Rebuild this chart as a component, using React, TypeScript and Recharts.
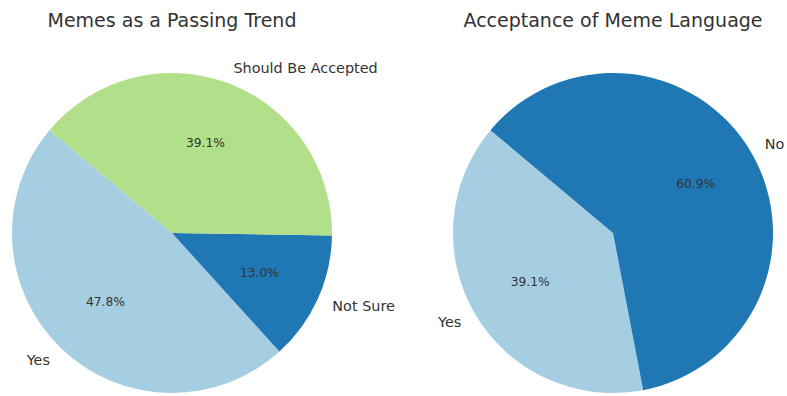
import { PieChart, Pie, Cell } from 'recharts'

const trendLabels = ['Yes', 'Not Sure', 'Should Be Accepted']
const trendCounts = [11, 3, 9]
const trendColors = ['#a6cee3', '#1f78b4', '#b2df8a']

const langLabels = ['Yes', 'No']
const langCounts = [9, 14]
const langColors = ['#a6cee3', '#1f78b4']

const titles = ['Memes as a Passing Trend', 'Acceptance of Meme Language']

const RAD = Math.PI / 180
const FONT = 'DejaVu Sans, Verdana, sans-serif'
const TEXT = '#333333'

const trendData = trendLabels.map((name, i) => ({ name, value: trendCounts[i] }))
const langData = langLabels.map((name, i) => ({ name, value: langCounts[i] }))

// matplotlib-like labels: name at 1.1r, pct at 0.6r
function renderLabel(props: any) {
  const { cx, cy, midAngle, outerRadius, percent, name } = props
  const cos = Math.cos(-midAngle * RAD)
  const sin = Math.sin(-midAngle * RAD)
  const lx = cx + outerRadius * 1.1 * cos
  const ly = cy + outerRadius * 1.1 * sin
  const px = cx + outerRadius * 0.6 * cos
  const py = cy + outerRadius * 0.6 * sin
  return (
    <g>
      <text
        x={lx}
        y={ly}
        textAnchor={cos >= 0 ? 'start' : 'end'}
        dominantBaseline="central"
        fill={TEXT}
        fontSize={14.4}
        fontFamily={FONT}
      >
        {name}
      </text>
      <text
        x={px}
        y={py}
        textAnchor="middle"
        dominantBaseline="central"
        fill={TEXT}
        fontSize={12.3}
        fontFamily={FONT}
      >
        {(percent * 100).toFixed(1)}%
      </text>
    </g>
  )
}

export default function App() {
  return (
    <div style={{ position: 'absolute', left: 0, top: 0, width: 787, height: 396, background: '#fff' }}>
      {/* titles */}
      {titles.map((t, i) => (
        <div
          key={t}
          style={{
            position: 'absolute',
            left: i === 0 ? 172 - 200 : 613 - 200,
            width: 400,
            top: 8,
            textAlign: 'center',
            fontFamily: FONT,
            fontSize: 19,
            color: TEXT,
            lineHeight: '24px',
          }}
        >
          {t}
        </div>
      ))}
      <PieChart
        width={787}
        height={396}
        margin={{ top: 0, right: 0, bottom: 0, left: 0 }}
        style={{ position: 'absolute', left: 0, top: 0 }}
      >
        <Pie
          data={trendData}
          dataKey="value"
          nameKey="name"
          cx={172}
          cy={233}
          outerRadius={160}
          startAngle={140}
          endAngle={500}
          stroke="none"
          label={renderLabel}
          labelLine={false}
          isAnimationActive={false}
        >
          {trendData.map((d, i) => (
            <Cell key={d.name} fill={trendColors[i]} />
          ))}
        </Pie>
        <Pie
          data={langData}
          dataKey="value"
          nameKey="name"
          cx={613}
          cy={233}
          outerRadius={160}
          startAngle={140}
          endAngle={500}
          stroke="none"
          label={renderLabel}
          labelLine={false}
          isAnimationActive={false}
        >
          {langData.map((d, i) => (
            <Cell key={d.name} fill={langColors[i]} />
          ))}
        </Pie>
      </PieChart>
    </div>
  )
}
